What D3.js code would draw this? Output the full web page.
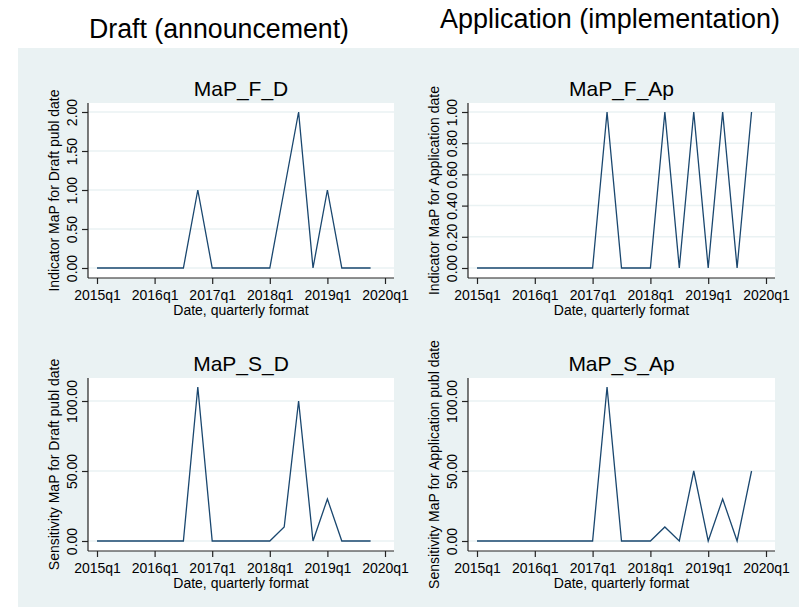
<!DOCTYPE html>
<html>
<head>
<meta charset="utf-8">
<script src="https://cdn.jsdelivr.net/npm/d3@7"></script>
<style>
  body { margin: 0; background: #fff; }
  text { font-family: "Liberation Sans", Arial, sans-serif; fill: #000; }
</style>
</head>
<body>
<div id="chart"></div>
<script>
const quarters = [
  '2015q1', '2015q2', '2015q3', '2015q4',
  '2016q1', '2016q2', '2016q3', '2016q4',
  '2017q1', '2017q2', '2017q3', '2017q4',
  '2018q1', '2018q2', '2018q3', '2018q4',
  '2019q1', '2019q2', '2019q3', '2019q4'
]
const xTickLabels = ['2015q1', '2016q1', '2017q1', '2018q1', '2019q1', '2020q1']

const mapFD = [0, 0, 0, 0, 0, 0, 0, 1, 0, 0, 0, 0, 0, 1, 2, 0, 1, 0, 0, 0]
const mapFAp = [0, 0, 0, 0, 0, 0, 0, 0, 0, 1, 0, 0, 0, 1, 0, 1, 0, 1, 0, 1]
const mapSD = [0, 0, 0, 0, 0, 0, 0, 110, 0, 0, 0, 0, 0, 10, 100, 0, 30, 0, 0, 0]
const mapSAp = [0, 0, 0, 0, 0, 0, 0, 0, 0, 110, 0, 0, 0, 10, 0, 50, 0, 30, 0, 50]

const yTicksFD = [0, 0.5, 1, 1.5, 2]
const yTicksFAp = [0, 0.2, 0.4, 0.6, 0.8, 1]
const yTicksS = [0, 50, 100]

const columnTitles = ['Draft (announcement)', 'Application (implementation)']

const width = 799
const height = 607
const bg = '#eaf2f3'
const lineColor = '#1a476f'

const svg = d3.select('#chart')
  .append('svg')
  .attr('width', width)
  .attr('height', height)

// Stata-style light background
svg.append('rect')
  .attr('x', 18)
  .attr('y', 48)
  .attr('width', width - 18)
  .attr('height', height - 48)
  .attr('fill', bg)

// Column headers
svg.append('text')
  .attr('x', 219)
  .attr('y', 38)
  .attr('text-anchor', 'middle')
  .attr('font-size', '27px')
  .attr('textLength', 260)
  .attr('lengthAdjust', 'spacingAndGlyphs')
  .text(columnTitles[0])

svg.append('text')
  .attr('x', 610)
  .attr('y', 28)
  .attr('text-anchor', 'middle')
  .attr('font-size', '27px')
  .attr('textLength', 340)
  .attr('lengthAdjust', 'spacingAndGlyphs')
  .text(columnTitles[1])

// quarter string -> index from 2015q1
const qIndex = s => (+s.slice(0, 4) - 2015) * 4 + (+s.slice(5) - 1)

function drawPanel(p) {
  const { x0, x1, y0, y1, title, yLabel, values, yTicks } = p

  const g = svg.append('g')

  g.append('rect')
    .attr('x', x0)
    .attr('y', y0)
    .attr('width', x1 - x0)
    .attr('height', y1 - y0)
    .attr('fill', '#fff')

  const xScale = d3.scaleLinear()
    .domain([0, qIndex('2020q1')])
    .range([x0 + 9, x1 - 9])

  const yScale = d3.scaleLinear()
    .domain([0, d3.max(values)])
    .range([y1 - 10, y0 + 9])

  // grid lines
  g.selectAll('.grid')
    .data(yTicks)
    .enter()
    .append('line')
    .attr('x1', x0)
    .attr('x2', x1)
    .attr('y1', d => yScale(d))
    .attr('y2', d => yScale(d))
    .attr('stroke', bg)
    .attr('stroke-width', 1.5)

  // Title
  g.append('text')
    .attr('x', (x0 + x1) / 2)
    .attr('y', y0 - 7.5)
    .attr('text-anchor', 'middle')
    .attr('font-size', '21px')
    .attr('fill', '#1e1e1e')
    .text(title)

  // X axis
  const tickIdx = xTickLabels.map(qIndex)
  const xAxis = g.append('g')
    .attr('transform', `translate(0, ${y1})`)
    .call(d3.axisBottom(xScale)
      .tickValues(tickIdx)
      .tickFormat(i => xTickLabels[tickIdx.indexOf(i)])
      .tickSize(6)
      .tickSizeOuter(0))
  xAxis.select('.domain')
    .attr('d', `M${x0},0H${x1}`)
    .attr('stroke', '#222')
    .attr('stroke-width', 1.2)
  xAxis.selectAll('.tick line').attr('stroke', '#222').attr('stroke-width', 1.2)
  xAxis.selectAll('.tick text')
    .attr('y', 12)
    .attr('font-size', '14px')
    .attr('font-family', '"Liberation Sans", Arial, sans-serif')
    .attr('fill', '#000')

  // Y axis
  const yAxis = g.append('g')
    .attr('transform', `translate(${x0}, 0)`)
    .call(d3.axisLeft(yScale)
      .tickValues(yTicks)
      .tickFormat(d3.format('.2f'))
      .tickSize(6)
      .tickSizeOuter(0))
  yAxis.select('.domain')
    .attr('d', `M0,${y0}V${y1}`)
    .attr('stroke', '#222')
    .attr('stroke-width', 1.2)
  yAxis.selectAll('.tick line').attr('stroke', '#222').attr('stroke-width', 1.2)
  yAxis.selectAll('.tick text')
    .attr('transform', 'rotate(-90)')
    .attr('x', 0)
    .attr('y', -11.5)
    .attr('dy', null)
    .attr('text-anchor', 'middle')
    .attr('font-size', '14px')
    .attr('font-family', '"Liberation Sans", Arial, sans-serif')
    .attr('fill', '#000')

  // X axis label
  g.append('text')
    .attr('x', (x0 + x1) / 2)
    .attr('y', y1 + 36.5)
    .attr('text-anchor', 'middle')
    .attr('font-size', '14px')
    .text('Date, quarterly format')

  // Y axis label
  g.append('text')
    .attr('transform', 'rotate(-90)')
    .attr('x', -(y0 + y1) / 2)
    .attr('y', x0 - 29.5)
    .attr('text-anchor', 'middle')
    .attr('font-size', '14px')
    .text(yLabel)

  // series line
  const line = d3.line()
    .x((d, i) => xScale(qIndex(quarters[i])))
    .y(d => yScale(d))

  g.append('path')
    .datum(values)
    .attr('d', line)
    .attr('fill', 'none')
    .attr('stroke', lineColor)
    .attr('stroke-width', 1.3)
    .attr('stroke-linejoin', 'miter')
}

drawPanel({ x0: 88, x1: 394, y0: 103, y1: 278, title: 'MaP_F_D',
  yLabel: 'Indicator MaP for Draft publ date', values: mapFD, yTicks: yTicksFD })
drawPanel({ x0: 468, x1: 775, y0: 103, y1: 278, title: 'MaP_F_Ap',
  yLabel: 'Indicator MaP for Application date', values: mapFAp, yTicks: yTicksFAp })
drawPanel({ x0: 88, x1: 394, y0: 378, y1: 551, title: 'MaP_S_D',
  yLabel: 'Sensitivity MaP for Draft publ date', values: mapSD, yTicks: yTicksS })
drawPanel({ x0: 468, x1: 775, y0: 378, y1: 551, title: 'MaP_S_Ap',
  yLabel: 'Sensitivity MaP for Application publ date', values: mapSAp, yTicks: yTicksS })
</script>
</body>
</html>
